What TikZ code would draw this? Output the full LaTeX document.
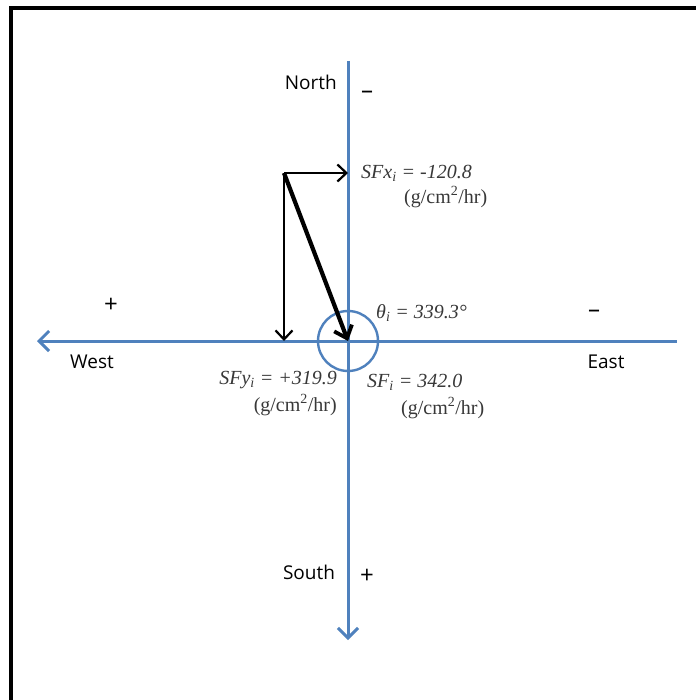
\documentclass[tikz,border=0pt]{standalone}
\usepackage{fontspec}
\setmainfont{Liberation Serif}
\newfontfamily\dirfont{Open Sans}
\usetikzlibrary{arrows.meta}
\definecolor{axisblue}{RGB}{79,129,189}
\begin{document}
\begin{tikzpicture}[x=1pt,y=-1pt,
  axis/.style={draw=axisblue,line width=3pt,-{Straight Barb[length=10pt,width=20pt,line width=3pt]}},
  comp/.style={draw=black,line width=2.2pt,-{Straight Barb[length=9pt,width=17pt,line width=2.2pt]}},
  result/.style={draw=black,line width=4.2pt,-{Straight Barb[length=11pt,width=19pt,line width=3.8pt]}},
  dir/.style={font=\dirfont\fontsize{19}{22}\selectfont,inner sep=0pt},
  sgn/.style={font=\dirfont\fontsize{24}{26}\selectfont,inner sep=0pt},
  val/.style={font=\fontsize{20}{23}\selectfont\color[gray]{0.22},inner sep=0pt},
]
\useasboundingbox (0,0) rectangle (695,700);
\fill[white] (0,0) rectangle (695,700);
\draw[line width=3.5pt] (11,702) -- (11,8) -- (697,8);

\coordinate (O) at (348,341);
\coordinate (P) at (284,173);
\coordinate (Ntop) at (348,61);
\coordinate (Sbot) at (348,640);
\coordinate (Wend) at (37,341);
\coordinate (Eend) at (677,341);
\coordinate (Xend) at (348,173);
\coordinate (Yend) at (284,341);

\draw[axisblue,line width=2.4pt] (O) circle (30);
\draw[axisblue,line width=3pt] (Ntop) -- (O);
\draw[axis] (O) -- (Sbot);
\draw[axisblue,line width=3pt] (O) -- (Eend);
\draw[axis] (O) -- (Wend);

\draw[comp] (P) -- (Xend);
\draw[comp] (P) -- (Yend);
\draw[result] (P) -- (O);

\node[dir,anchor=east] (north) at (337,82) {North};
\node[dir] (south) at (309,572) {South};
\node[dir] (west) at (92,362) {West};
\node[dir] (east) at (606,362) {East};
\node[sgn] (nminus) at (367,95) {–};
\node[sgn] (splus) at (367,576) {+};
\node[sgn] (wplus) at (111,305) {+};
\node[sgn] (eminus) at (594,314) {–};

\node[val,anchor=west] (sfx) at (361,173) {\itshape SFx\textsubscript{i} = -120.8};
\node[val,anchor=west] (sfxu) at (404,197) {(g/cm\textsuperscript{2}/hr)};
\node[val,anchor=west] (theta) at (376,313) {\itshape θ\textsubscript{i} = 339.3°};
\node[val,anchor=east] (sfy) at (337,380) {\itshape SFy\textsubscript{i} = +319.9};
\node[val,anchor=east] (sfyu) at (337,405) {(g/cm\textsuperscript{2}/hr)};
\node[val,anchor=west] (sf) at (367,382) {\itshape SF\textsubscript{i} = 342.0};
\node[val,anchor=west] (sfu) at (401,408) {(g/cm\textsuperscript{2}/hr)};
\end{tikzpicture}
\end{document}
